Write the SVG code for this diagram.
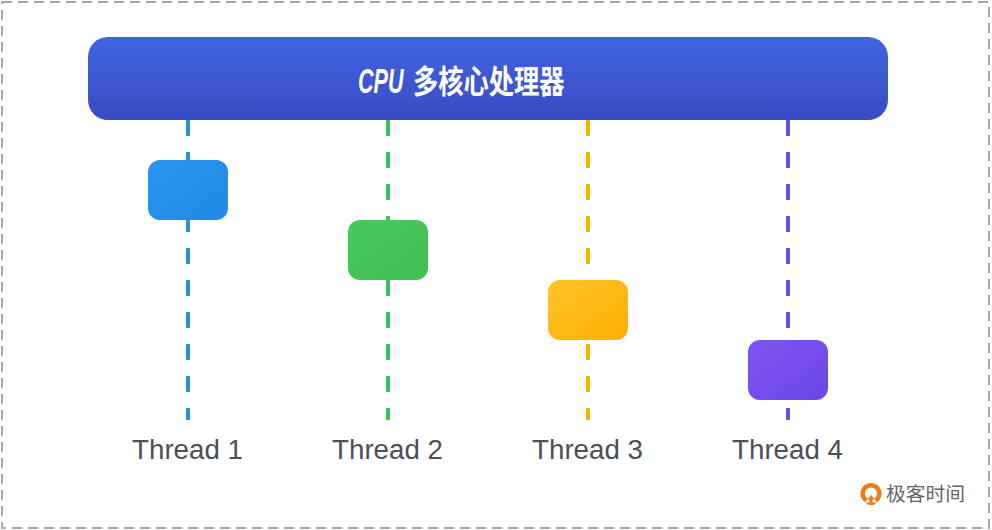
<svg xmlns="http://www.w3.org/2000/svg" width="992" height="530" viewBox="0 0 992 530">
<style>
.lane{fill:none;stroke-width:4;stroke-dasharray:16 16}
.label{font-family:"Liberation Sans",Arial,sans-serif;font-size:27.700px;fill:#4a5058;text-anchor:middle}
.title{font-family:"Liberation Sans","Noto Sans CJK SC",sans-serif;font-weight:700;fill:#fff}
.logo{font-family:"Noto Sans CJK SC",sans-serif;font-size:19.800px;fill:#666}
</style>
<defs>
<linearGradient id="gCpu" x1="0" y1="0" x2="0" y2="1"><stop offset="0" stop-color="#4364e0"/><stop offset="1" stop-color="#384cc4"/></linearGradient>
<linearGradient id="gB" x1="0" y1="0" x2="1" y2="1"><stop offset="0" stop-color="#2a95ed"/><stop offset="1" stop-color="#2089e6"/></linearGradient>
<linearGradient id="gG" x1="0" y1="0" x2="1" y2="1"><stop offset="0" stop-color="#4bc85e"/><stop offset="1" stop-color="#3fc052"/></linearGradient>
<linearGradient id="gY" x1="0" y1="0" x2="1" y2="1"><stop offset="0" stop-color="#ffc42c"/><stop offset="1" stop-color="#ffae00"/></linearGradient>
<linearGradient id="gP" x1="0" y1="0" x2="1" y2="1"><stop offset="0" stop-color="#7d55f0"/><stop offset="1" stop-color="#6c46e6"/></linearGradient>
</defs>
<rect width="992" height="530" fill="#fff"/>
<rect x="2" y="2" width="987" height="526" fill="none" stroke="#a8a8a8" stroke-width="2" stroke-dasharray="10 6"/>
<g id="connectors">
<path class="lane" stroke="#2491ea" d="M188 120V420"/>
<path class="lane" stroke="#40c156" d="M388 120V420"/>
<path class="lane" stroke="#ffae00" d="M588 120V420"/>
<path class="lane" stroke="#7049e8" d="M788 120V420"/>
</g>
<g id="cpu">
<rect x="88" y="37" width="800" height="83" rx="20" fill="url(#gCpu)"/>
<text class="title" font-size="36" font-style="italic" transform="translate(358 93) scale(.6 1)">CPU</text>
<text class="title" font-size="32" transform="translate(413 93) scale(.79 1)">多核心处理器</text>
</g>
<g id="task1"><rect x="148" y="160" width="80" height="60" rx="12" fill="url(#gB)"/></g>
<g id="task2"><rect x="348" y="220" width="80" height="60" rx="12" fill="url(#gG)"/></g>
<g id="task3"><rect x="548" y="280" width="80" height="60" rx="12" fill="url(#gY)"/></g>
<g id="task4"><rect x="748" y="340" width="80" height="60" rx="12" fill="url(#gP)"/></g>
<g id="thread1"><text class="label" x="187.500" y="459">Thread 1</text></g>
<g id="thread2"><text class="label" x="387.500" y="459">Thread 2</text></g>
<g id="thread3"><text class="label" x="587.500" y="459">Thread 3</text></g>
<g id="thread4"><text class="label" x="787.500" y="459">Thread 4</text></g>
<g id="logo">
<path d="M866.500 500.500A8.300 8.300 0 1 1 875.500 500.500" fill="none" stroke="#f07a1c" stroke-width="4.500"/>
<path d="M865.500 503Q871 507.500 876.500 503L872.500 502V499.500H875L871 495L867 499.500H869.500V502Z" fill="#f07a1c"/>
<text class="logo" x="886" y="501">极客时间</text>
</g>
</svg>
